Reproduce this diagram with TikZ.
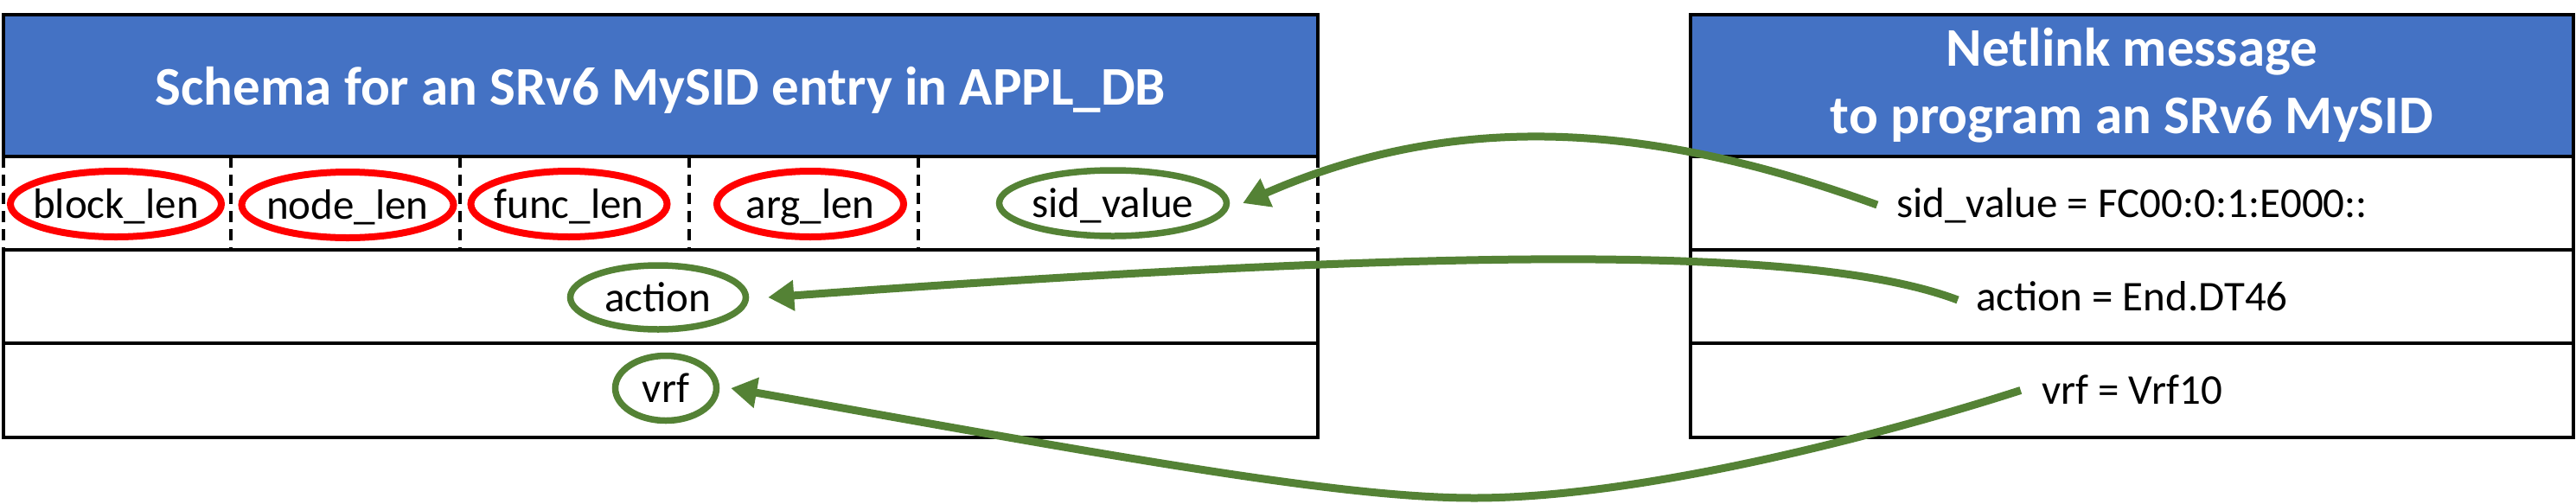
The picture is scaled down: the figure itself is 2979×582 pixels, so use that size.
\documentclass[tikz,border=0pt]{standalone}
\usepackage{fontspec}
\setmainfont{Carlito}
\usetikzlibrary{shapes.geometric,arrows.meta}
\definecolor{hdrblue}{HTML}{4472C4}
\definecolor{grn}{HTML}{548235}
\definecolor{redo}{HTML}{FF0000}
\begin{document}
\begin{tikzpicture}[x=1pt,y=-1pt,
  hdr/.style={draw=black, line width=4.5pt, fill=hdrblue, text=white, font=\fontsize{63}{78}\selectfont\bfseries, align=center, inner sep=0pt, minimum height=164pt},
  rowbox/.style={draw=black, line width=4.5pt, inner sep=0pt, minimum height=108pt},
  txt/.style={inner sep=0pt, font=\fontsize{49}{59}\selectfont, text height=32pt, text depth=0pt},
  oval/.style={ellipse, draw, line width=8pt, inner sep=0pt, text height=32pt, text depth=0pt, font=\fontsize{49}{59}\selectfont},
  redoval/.style={oval, draw=redo},
  grnoval/.style={oval, draw=grn, line width=7.5pt},
  dashdiv/.style={line width=4pt, dash pattern=on 13pt off 8pt},
  link/.style={draw=grn, line width=9pt, -{Triangle[length=30pt,width=34pt]}}
]
\useasboundingbox[fill=white] (0,0) rectangle (2979,582);

% ---- left table ----
\node[hdr, minimum width=1520pt, text height=44pt, text depth=0pt] (lh) at (764,99) {Schema for an SRv6 MySID entry in APPL\_DB};
\node[rowbox, minimum width=1520pt] (lr2) at (764,343) {};
\node[rowbox, minimum width=1520pt, minimum height=109pt] (lr3) at (764,451.5) {};
\foreach \xx in {4,267,532,797,1062,1524}
  \draw[dashdiv] (\xx,181) -- (\xx,289);

\node[redoval, minimum width=244pt, minimum height=76pt] (blk) at (134,236) {\makebox[0pt]{block\_len}};
\node[redoval, minimum width=245pt, minimum height=76pt] (nod) at (402,237) {\makebox[0pt]{node\_len}};
\node[redoval, minimum width=227pt, minimum height=76pt] (fun) at (658,236) {\makebox[0pt]{func\_len}};
\node[redoval, minimum width=216pt, minimum height=76pt] (arg) at (937,236) {\makebox[0pt]{arg\_len}};
\node[grnoval, minimum width=263pt, minimum height=76pt] (sid) at (1287,235) {\makebox[0pt]{sid\_value}};
\node[grnoval, minimum width=203pt, minimum height=74pt] (act) at (761,344) {\makebox[0pt]{action}};
\node[grnoval, minimum width=117pt, minimum height=75pt] (vrfE) at (770,449) {\makebox[0pt]{vrf}};

% ---- right table ----
\node[hdr, minimum width=1021pt] (rh) at (2465.5,99) {Netlink message\\to program an SRv6 MySID};
\node[rowbox, minimum width=1021pt] (rr1) at (2465.5,235) {};
\node[rowbox, minimum width=1021pt] (rr2) at (2465.5,343) {};
\node[rowbox, minimum width=1021pt, minimum height=109pt] (rr3) at (2465.5,451.5) {};
\node[txt] (rs) at (rr1.center) {sid\_value = FC00:0:1:E000::};
\node[txt] (ra) at (rr2.center) {action = End.DT46};
\node[txt] (rv) at (rr3.center) {vrf = Vrf10};

% ---- connectors ----
\coordinate (vrflow) at (1705,576);
\draw[link] ([xshift=-22pt,yshift=-2pt]rs.west) .. controls (1930,150) and (1700,120) .. ([xshift=15pt]sid.east);
\draw[link] ([xshift=-21pt,yshift=-4pt]ra.west) .. controls (2100,285) and (1700,285) .. ([xshift=22pt]act.east);
\draw[link] ([xshift=-24pt]rv.west) .. controls (2180,502) and (1900,576) .. (vrflow) .. controls (1550,576) and (1300,530) .. ([xshift=13pt]vrfE.east);
\end{tikzpicture}
\end{document}
